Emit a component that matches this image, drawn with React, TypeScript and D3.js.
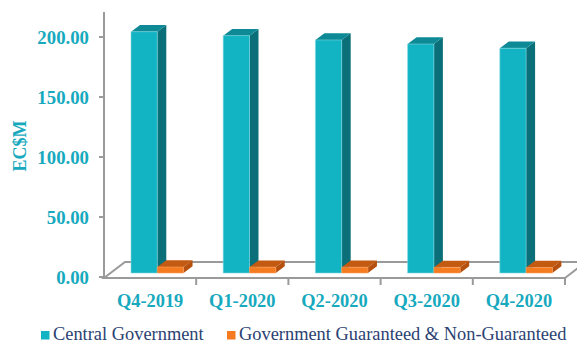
import React from "react";
import * as d3 from "d3";

const categories = ["Q4-2019", "Q1-2020", "Q2-2020", "Q3-2020", "Q4-2020"];
const centralGov = [201.1, 197.8, 194.2, 190.8, 187.3];
const guaranteed = [5.0, 4.9, 4.8, 4.7, 4.6];
const yTicks = [0, 50, 100, 150, 200];
const seriesNames = ["Central Government", "Government Guaranteed & Non-Guaranteed"];

const W = 577;
const H = 343;
const FONT = "'Liberation Serif', 'Times New Roman', Times, serif";

export default function App() {
  const x = d3.scaleBand<string>().domain(categories).range([104, 565]);
  const y = d3.scaleLinear().domain([0, 200]).range([277, 37]);
  const bw = x.bandwidth();
  const lift = 4;
  const bdx = 9;
  const bdy = -6.7;
  const fdx = 21;
  const fdy = -16;
  const floorY = 278;
  const labelColor = "#17A9BE";
  const axisColor = "#9a9a9a";

  const bar = (x0: number, w: number, v: number, cols: string[], key: string) => {
    const yb = y(0) - lift;
    const yt = y(v) - lift;
    const front = `M${x0},${yt}L${x0 + w},${yt}L${x0 + w},${yb}L${x0},${yb}Z`;
    const top = `M${x0},${yt}L${x0 + bdx},${yt + bdy}L${x0 + w + bdx},${yt + bdy}L${x0 + w},${yt}Z`;
    const side = `M${x0 + w},${yt}L${x0 + w + bdx},${yt + bdy}L${x0 + w + bdx},${yb + bdy}L${x0 + w},${yb}Z`;
    return (
      <g key={key}>
        <path d={side} fill={cols[2]} />
        <path d={top} fill={cols[1]} />
        <path d={front} fill={cols[0]} stroke={cols[3]} strokeWidth={0.6} />
      </g>
    );
  };

  const teal = ["#12B3C3", "#0D8A95", "#0A6F78", "#7FD6DF"];
  const orange = ["#F57B20", "#C35A12", "#B5500F", "#F9A060"];

  return (
    <svg width={W} height={H} style={{ position: "absolute", left: 0, top: 0 }}>
      <rect width={W} height={H} fill="#ffffff" />
      <path
        d={`M${104},${floorY}L${565},${floorY}L${565 + fdx},${floorY + fdy}L${104 + fdx},${floorY + fdy}Z`}
        fill="#ffffff"
        stroke={axisColor}
        strokeWidth={2}
      />
      <line x1={104} x2={104} y1={12} y2={floorY} stroke={axisColor} strokeWidth={2} />
      {yTicks.map((t) => (
        <g key={t}>
          <line x1={99} x2={104} y1={y(t)} y2={y(t)} stroke={axisColor} strokeWidth={2} />
          <text
            x={89}
            y={y(t)}
            dy="0.35em"
            textAnchor="end"
            style={{ fontFamily: FONT }}
            fontWeight="bold"
            fontSize={18.8}
            fill={labelColor}
          >
            {t.toFixed(2)}
          </text>
        </g>
      ))}
      {categories.map((c) => (
        <line key={c} x1={x(c)! + bw} x2={x(c)! + bw} y1={floorY} y2={285} stroke={axisColor} strokeWidth={2} />
      ))}
      {categories.map((c, i) => {
        const x0 = x(c)! + bw * 0.293;
        const w = bw * 0.285;
        return (
          <g key={c}>
            {bar(x0, w, centralGov[i], teal, "a")}
            {bar(x0 + w, w, guaranteed[i], orange, "b")}
          </g>
        );
      })}
      {categories.map((c) => (
        <text
          key={c}
          x={x(c)! + bw / 2}
          y={306.5}
          textAnchor="middle"
          style={{ fontFamily: FONT }}
          fontWeight="bold"
          fontSize={18.4}
          fill={labelColor}
        >
          {c}
        </text>
      ))}
      <text
        transform={`translate(25.5,146) rotate(-90)`}
        textAnchor="middle"
        style={{ fontFamily: FONT }}
        fontWeight="bold"
        fontSize={18}
        fill={labelColor}
      >
        EC$M
      </text>
      <rect x={41} y={331} width={8.5} height={8.5} fill={teal[0]} />
      <text x={53} y={340} style={{ fontFamily: FONT }} fontSize={18.4} fill="#2B4272">
        {seriesNames[0]}
      </text>
      <rect x={227} y={331} width={8.5} height={8.5} fill={orange[0]} />
      <text x={239} y={340} style={{ fontFamily: FONT }} fontSize={18.4} fill="#2B4272">
        {seriesNames[1]}
      </text>
    </svg>
  );
}
